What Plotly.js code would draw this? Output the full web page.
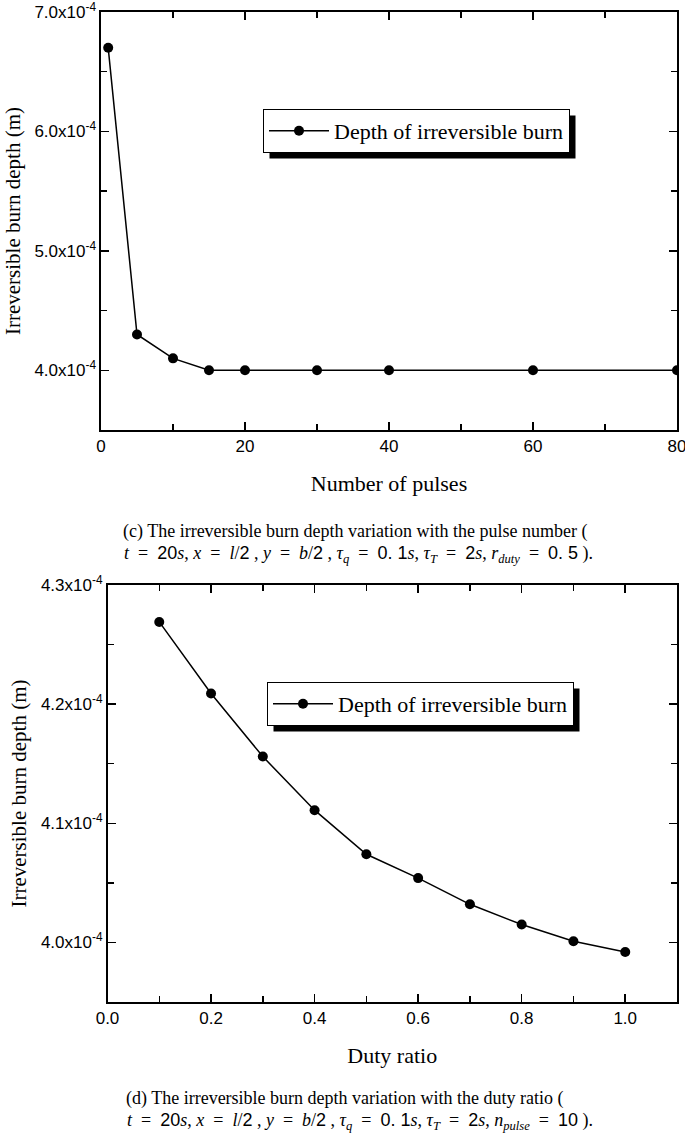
<!DOCTYPE html>
<html>
<head>
<meta charset="utf-8">
<script src="https://cdn.plot.ly/plotly-3.0.1.min.js"></script>
<style>html,body{margin:0;padding:0;background:#fff;}#chart{width:685px;height:1137px;}</style>
</head>
<body>
<div id="chart"></div>
<script>
// ---- data ----
const pulses = [1, 5, 10, 15, 20, 30, 40, 60, 80];
const depthPulses = [6.70e-4, 4.30e-4, 4.10e-4, 4.00e-4, 4.00e-4, 4.00e-4, 4.00e-4, 4.00e-4, 4.00e-4];
const duty = [0.1, 0.2, 0.3, 0.4, 0.5, 0.6, 0.7, 0.8, 0.9, 1.0];
const depthDuty = [4.269e-4, 4.209e-4, 4.156e-4, 4.111e-4, 4.074e-4, 4.054e-4, 4.032e-4, 4.015e-4, 4.001e-4, 3.992e-4];
const seriesName = "Depth of irreversible burn";
const yTicksTop = [4.0e-4, 5.0e-4, 6.0e-4, 7.0e-4];
const yTickTextTop = ["4.0x10<sup>-4</sup>", "5.0x10<sup>-4</sup>", "6.0x10<sup>-4</sup>", "7.0x10<sup>-4</sup>"];
const yTicksBot = [4.0e-4, 4.1e-4, 4.2e-4, 4.3e-4];
const yTickTextBot = ["4.0x10<sup>-4</sup>", "4.1x10<sup>-4</sup>", "4.2x10<sup>-4</sup>", "4.3x10<sup>-4</sup>"];
const xTicksTop = [0, 20, 40, 60, 80];
const xTicksBot = [0.0, 0.2, 0.4, 0.6, 0.8, 1.0];
const xTickTextBot = ["0.0", "0.2", "0.4", "0.6", "0.8", "1.0"];

const W = 685, H = 1137;
const px = v => v / W, py = v => 1 - v / H;
const serif = "Liberation Serif, Times New Roman, serif";
const sans = "Liberation Sans, Arial, sans-serif";
const S = t => '<span style="font-family:Liberation Sans">' + t + '</span>';

const traceStyle = {
  mode: "lines+markers",
  cliponaxis: true,
  line: {color: "#000", width: 1.5},
  marker: {color: "#000", size: 10, symbol: "circle"}
};

const data = [
  Object.assign({x: pulses, y: depthPulses, name: seriesName, xaxis: "x", yaxis: "y", legend: "legend"}, traceStyle),
  Object.assign({x: duty, y: depthDuty, name: seriesName, xaxis: "x2", yaxis: "y2", legend: "legend2"}, traceStyle)
];

const axisBase = {
  showgrid: false, zeroline: false, showline: true, linecolor: "#000", linewidth: 1.6,
  mirror: "ticks", ticks: "inside", ticklen: 8, tickwidth: 1.5, tickcolor: "#000",
  ticklabeloverflow: "allow",
  tickfont: {family: sans, size: 17, color: "#000"}
};

function ax(extra) { return Object.assign({}, JSON.parse(JSON.stringify(axisBase)), extra); }

const titleFont = {family: serif, size: 21, color: "#000"};
const capFont = {family: serif, size: 18, color: "#000"};
const legFont = {family: serif, size: 22, color: "#000"};

const layout = {
  width: W, height: H, autosize: false,
  margin: {l: 0, r: 0, t: 0, b: 0},
  paper_bgcolor: "#fff", plot_bgcolor: "#fff",
  showlegend: true,
  xaxis: ax({
    domain: [px(101), px(677)], anchor: "y", range: [0, 80],
    tickmode: "array", tickvals: xTicksTop,
    minor: {ticks: "inside", ticklen: 6, tickwidth: 1.5, tickcolor: "#000", dtick: 10, tick0: 0},
    title: {text: "Number of pulses", font: {family: serif, size: 22, color: "#000"}, standoff: 20}
  }),
  yaxis: ax({
    domain: [py(430), py(12)], anchor: "x", range: [3.5e-4, 7.0e-4],
    tickmode: "array", tickvals: yTicksTop, ticktext: yTickTextTop,
    minor: {ticks: "inside", ticklen: 6, tickwidth: 1.5, tickcolor: "#000", dtick: 0.5e-4, tick0: 0},
    title: {text: "Irreversible burn depth (m)", font: titleFont, standoff: 8}
  }),
  xaxis2: ax({
    domain: [px(107.5), px(677)], anchor: "y2", range: [0, 1.1],
    tickmode: "array", tickvals: xTicksBot, ticktext: xTickTextBot,
    minor: {ticks: "inside", ticklen: 6, tickwidth: 1.5, tickcolor: "#000", dtick: 0.1, tick0: 0},
    title: {text: "Duty ratio", font: {family: serif, size: 22, color: "#000"}, standoff: 20}
  }),
  yaxis2: ax({
    domain: [py(1002), py(585)], anchor: "x2", range: [3.95e-4, 4.3e-4],
    tickmode: "array", tickvals: yTicksBot, ticktext: yTickTextBot,
    minor: {ticks: "inside", ticklen: 6, tickwidth: 1.5, tickcolor: "#000", dtick: 0.05e-4, tick0: 0},
    title: {text: "Irreversible burn depth (m)", font: titleFont, standoff: 8}
  }),
  legend: {
    x: px(263), y: py(109), xanchor: "left", yanchor: "top",
    bgcolor: "#fff", bordercolor: "#000", borderwidth: 1, itemwidth: 60,
    font: legFont
  },
  legend2: {
    x: px(267), y: py(682), xanchor: "left", yanchor: "top",
    bgcolor: "#fff", bordercolor: "#000", borderwidth: 1, itemwidth: 60,
    font: legFont
  },
  annotations: [
    {xref: "paper", yref: "paper", x: px(355), y: py(532), showarrow: false, xanchor: "center", yanchor: "middle",
     font: capFont,
     text: "(c) The irreversible burn depth variation with the pulse number ("},
    {xref: "paper", yref: "paper", x: px(358), y: py(554), showarrow: false, xanchor: "center", yanchor: "middle",
     font: capFont,
     text: "<i>t</i>  =  " + S("20") + "<i>s</i>, <i>x</i>  =  <i>l</i>/" + S("2") + " , <i>y</i>  =  <i>b</i>/" + S("2") +
           " , <i>τ<sub>q</sub></i>  =  " + S("0. 1") + "<i>s</i>, <i>τ<sub>T</sub></i>  =  " + S("2") +
           "<i>s</i>, <i>r<sub>duty</sub></i>  =  " + S("0. 5") + " )."},
    {xref: "paper", yref: "paper", x: px(345), y: py(1098), showarrow: false, xanchor: "center", yanchor: "middle",
     font: capFont,
     text: "(d) The irreversible burn depth variation with the duty ratio ("},
    {xref: "paper", yref: "paper", x: px(360), y: py(1121), showarrow: false, xanchor: "center", yanchor: "middle",
     font: capFont,
     text: "<i>t</i>  =  " + S("20") + "<i>s</i>, <i>x</i>  =  <i>l</i>/" + S("2") + " , <i>y</i>  =  <i>b</i>/" + S("2") +
           " , <i>τ<sub>q</sub></i>  =  " + S("0. 1") + "<i>s</i>, <i>τ<sub>T</sub></i>  =  " + S("2") +
           "<i>s</i>, <i>n<sub>pulse</sub></i>  =  " + S("10") + " )."}
  ]
};

const gd = document.getElementById("chart");
Plotly.newPlot(gd, data, layout, {displayModeBar: false, staticPlot: true}).then(() => {
  // drop-shadow behind each legend box, sized from the rendered legend
  const root = gd.getBoundingClientRect();
  const off = 6;
  const shapes = [];
  gd.querySelectorAll("g.legend rect.bg, g.legend2 rect.bg").forEach(r => {
    const b = r.getBoundingClientRect();
    const x0 = b.left - root.left + off, x1 = b.right - root.left + off;
    const y0 = b.top - root.top + off, y1 = b.bottom - root.top + off;
    shapes.push({type: "rect", xref: "paper", yref: "paper",
      x0: px(x0), x1: px(x1), y0: py(y1), y1: py(y0),
      fillcolor: "#000", line: {width: 0}, layer: "above"});
  });
  return Plotly.relayout(gd, {shapes: shapes});
});
</script>
</body>
</html>
